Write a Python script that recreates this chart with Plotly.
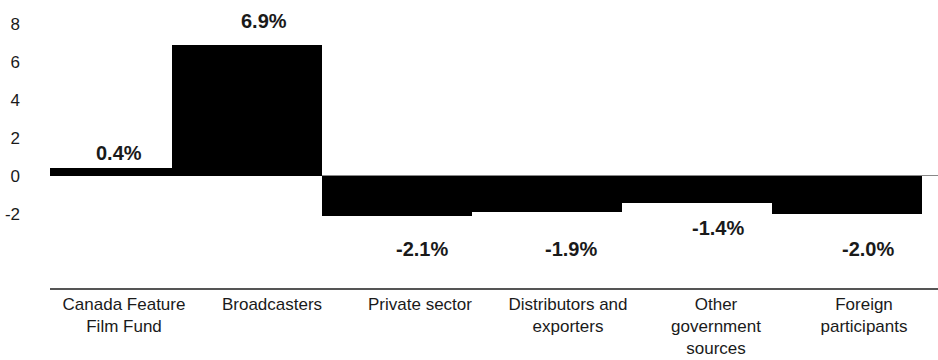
import plotly.graph_objects as go

# Funding sources and their change (percentage points)
categories = [
    "Canada Feature<br>Film Fund",
    "Broadcasters",
    "Private sector",
    "Distributors and<br>exporters",
    "Other<br>government<br>sources",
    "Foreign<br>participants",
]
changes = [0.4, 6.9, -2.1, -1.9, -1.4, -2.0]
value_labels = ["0.4%", "6.9%", "-2.1%", "-1.9%", "-1.4%", "-2.0%"]
y_ticks = [-2, 0, 2, 4, 6, 8]
y_tick_text = ["-2", "0", "2", "4", "6", "8"]

# pixel nudges of each value label relative to its bar end / column centre
label_shift_y = [15, 24, -33, -37, -25, -35]
label_shift_x = [-5, -8, 2, 3, 2, 4]

FONT = "Liberation Sans, Arial, Helvetica, sans-serif"
TEXT = "#1a1a1a"

positions = list(range(len(categories)))

fig = go.Figure()

# Bars on a numeric axis, touching each other
fig.add_bar(
    x=positions,
    y=changes,
    width=1,
    marker=dict(color="black", line=dict(width=0)),
    xaxis="x",
    yaxis="y",
    hoverinfo="skip",
)

# Invisible anchor trace for the category axis
fig.add_scatter(
    x=positions,
    y=changes,
    mode="markers",
    marker=dict(opacity=0),
    xaxis="x2",
    yaxis="y",
    hoverinfo="skip",
    showlegend=False,
)

for i, (v, lab) in enumerate(zip(changes, value_labels)):
    fig.add_annotation(
        x=i,
        y=v,
        xref="x2",
        yref="y",
        text=lab,
        showarrow=False,
        yanchor="middle",
        xanchor="center",
        yshift=label_shift_y[i],
        xshift=label_shift_x[i],
        font=dict(family=FONT, size=20, color=TEXT, weight="bold"),
    )

fig.update_layout(
    width=938,
    height=360,
    margin=dict(l=50, r=0, t=10, b=72),
    paper_bgcolor="white",
    plot_bgcolor="white",
    showlegend=False,
    bargap=0,
    font=dict(family=FONT, color=TEXT, size=17),
    xaxis=dict(
        range=[-0.3133, 5.6067],
        visible=False,
        fixedrange=True,
    ),
    xaxis2=dict(
        overlaying="x",
        side="bottom",
        anchor="y",
        range=[-0.5, 5.5],
        tickmode="array",
        tickvals=positions,
        ticktext=categories,
        showline=True,
        linecolor="#555555",
        linewidth=1.5,
        ticks="",
        showgrid=False,
        zeroline=False,
        tickfont=dict(family=FONT, size=17, color=TEXT),
    ),
    yaxis=dict(
        range=[-5.9, 8.74],
        tickmode="array",
        tickvals=y_ticks,
        ticktext=y_tick_text,
        showgrid=False,
        zeroline=True,
        zerolinecolor="#888888",
        zerolinewidth=1,
        showline=False,
        ticks="",
        ticklabelstandoff=29,
        tickfont=dict(family=FONT, size=17, color=TEXT),
    ),
)

fig.write_html("out.html")
